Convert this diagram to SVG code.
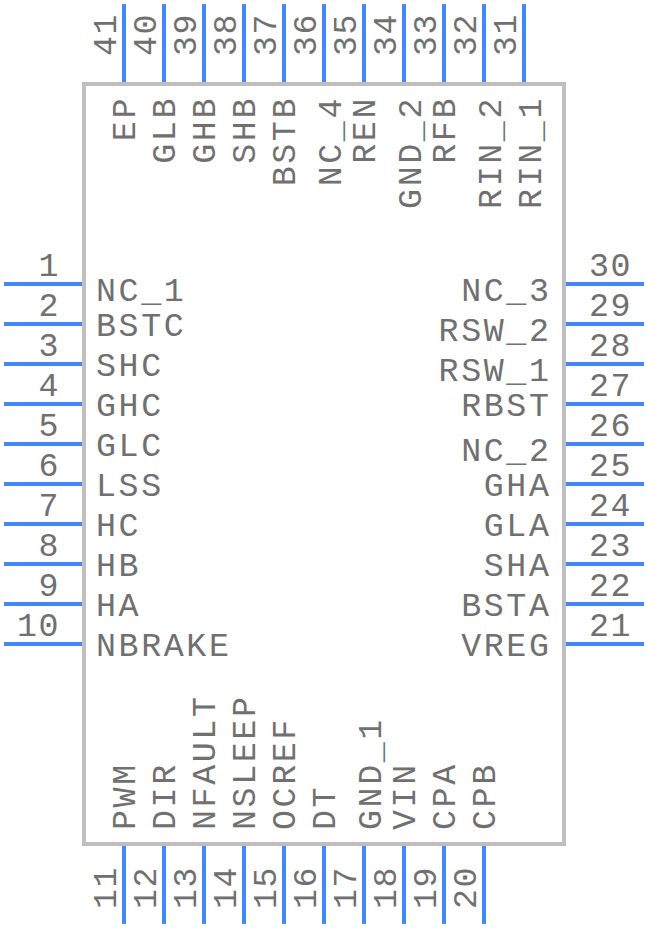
<svg xmlns="http://www.w3.org/2000/svg" width="648" height="928" viewBox="0 0 648 928">
<style>
text{font-family:"Liberation Mono",monospace;font-size:33.3px;fill:#707070;letter-spacing:2.6px}
.n{letter-spacing:1.5px}
.pin{stroke:#4287f5;stroke-width:4;fill:none}
.body{stroke:#bfbfbf;stroke-width:4;fill:#fff}
.e{text-anchor:end}
</style>
<g id="package"><rect class="body" x="84" y="84" width="480" height="760"/></g>
<g id="connectors">
<path class="pin" d="M4 284H82M4 324H82M4 364H82M4 404H82M4 444H82M4 484H82M4 524H82M4 564H82M4 604H82M4 644H82"/>
<path class="pin" d="M566 284H644M566 324H644M566 364H644M566 404H644M566 444H644M566 484H644M566 524H644M566 564H644M566 604H644M566 644H644"/>
<path class="pin" d="M124 4V82M164 4V82M204 4V82M244 4V82M284 4V82M324 4V82M364 4V82M404 4V82M444 4V82M484 4V82M524 4V82"/>
<path class="pin" d="M124 846V924M164 846V924M204 846V924M244 846V924M284 846V924M324 846V924M364 846V924M404 846V924M444 846V924M484 846V924"/>
</g>
<g id="pins-left">
<g id="p1"><text class="n e" x="60" y="276">1</text><text x="96" y="301">NC_1</text></g>
<g id="p2"><text class="n e" x="60" y="316">2</text><text x="96" y="336">BSTC</text></g>
<g id="p3"><text class="n e" x="60" y="356">3</text><text x="96" y="376">SHC</text></g>
<g id="p4"><text class="n e" x="60" y="396">4</text><text x="96" y="416">GHC</text></g>
<g id="p5"><text class="n e" x="60" y="436">5</text><text x="96" y="456">GLC</text></g>
<g id="p6"><text class="n e" x="60" y="476">6</text><text x="96" y="496">LSS</text></g>
<g id="p7"><text class="n e" x="60" y="516">7</text><text x="96" y="536">HC</text></g>
<g id="p8"><text class="n e" x="60" y="556">8</text><text x="96" y="576">HB</text></g>
<g id="p9"><text class="n e" x="60" y="596">9</text><text x="96" y="616">HA</text></g>
<g id="p10"><text class="n e" x="60" y="636">10</text><text x="96" y="656">NBRAKE</text></g>
</g>
<g id="pins-right">
<g id="p30"><text class="n" x="589" y="276">30</text><text class="e" x="551.5" y="301">NC_3</text></g>
<g id="p29"><text class="n" x="589" y="316">29</text><text class="e" x="551.5" y="341">RSW_2</text></g>
<g id="p28"><text class="n" x="589" y="356">28</text><text class="e" x="551.5" y="381">RSW_1</text></g>
<g id="p27"><text class="n" x="589" y="396">27</text><text class="e" x="551.5" y="416">RBST</text></g>
<g id="p26"><text class="n" x="589" y="436">26</text><text class="e" x="551.5" y="461">NC_2</text></g>
<g id="p25"><text class="n" x="589" y="476">25</text><text class="e" x="551.5" y="496">GHA</text></g>
<g id="p24"><text class="n" x="589" y="516">24</text><text class="e" x="551.5" y="536">GLA</text></g>
<g id="p23"><text class="n" x="589" y="556">23</text><text class="e" x="551.5" y="576">SHA</text></g>
<g id="p22"><text class="n" x="589" y="596">22</text><text class="e" x="551.5" y="616">BSTA</text></g>
<g id="p21"><text class="n" x="589" y="636">21</text><text class="e" x="551.5" y="656">VREG</text></g>
</g>
<g id="pins-top">
<g id="p41"><text class="n" transform="translate(116 56) rotate(-90)">41</text><text class="e" transform="translate(135 96) rotate(-90)">EP</text></g>
<g id="p40"><text class="n" transform="translate(156 56) rotate(-90)">40</text><text class="e" transform="translate(175 96) rotate(-90)">GLB</text></g>
<g id="p39"><text class="n" transform="translate(196 56) rotate(-90)">39</text><text class="e" transform="translate(215 96) rotate(-90)">GHB</text></g>
<g id="p38"><text class="n" transform="translate(236 56) rotate(-90)">38</text><text class="e" transform="translate(255 96) rotate(-90)">SHB</text></g>
<g id="p37"><text class="n" transform="translate(276 56) rotate(-90)">37</text><text class="e" transform="translate(295 96) rotate(-90)">BSTB</text></g>
<g id="p36"><text class="n" transform="translate(316 56) rotate(-90)">36</text><text class="e" transform="translate(341 96) rotate(-90)">NC_4</text></g>
<g id="p35"><text class="n" transform="translate(356 56) rotate(-90)">35</text><text class="e" transform="translate(375 96) rotate(-90)">REN</text></g>
<g id="p34"><text class="n" transform="translate(396 56) rotate(-90)">34</text><text class="e" transform="translate(421 96) rotate(-90)">GND_2</text></g>
<g id="p33"><text class="n" transform="translate(436 56) rotate(-90)">33</text><text class="e" transform="translate(455 96) rotate(-90)">RFB</text></g>
<g id="p32"><text class="n" transform="translate(476 56) rotate(-90)">32</text><text class="e" transform="translate(501 96) rotate(-90)">RIN_2</text></g>
<g id="p31"><text class="n" transform="translate(516 56) rotate(-90)">31</text><text class="e" transform="translate(541 96) rotate(-90)">RIN_1</text></g>
</g>
<g id="pins-bottom">
<g id="p11"><text class="n" transform="translate(116 909) rotate(-90)">11</text><text transform="translate(135 830) rotate(-90)">PWM</text></g>
<g id="p12"><text class="n" transform="translate(156 909) rotate(-90)">12</text><text transform="translate(175 830) rotate(-90)">DIR</text></g>
<g id="p13"><text class="n" transform="translate(196 909) rotate(-90)">13</text><text transform="translate(215 830) rotate(-90)">NFAULT</text></g>
<g id="p14"><text class="n" transform="translate(236 909) rotate(-90)">14</text><text transform="translate(255 830) rotate(-90)">NSLEEP</text></g>
<g id="p15"><text class="n" transform="translate(276 909) rotate(-90)">15</text><text transform="translate(295 830) rotate(-90)">OCREF</text></g>
<g id="p16"><text class="n" transform="translate(316 909) rotate(-90)">16</text><text transform="translate(335 830) rotate(-90)">DT</text></g>
<g id="p17"><text class="n" transform="translate(356 909) rotate(-90)">17</text><text transform="translate(381 830) rotate(-90)">GND_1</text></g>
<g id="p18"><text class="n" transform="translate(396 909) rotate(-90)">18</text><text transform="translate(415 830) rotate(-90)">VIN</text></g>
<g id="p19"><text class="n" transform="translate(436 909) rotate(-90)">19</text><text transform="translate(455 830) rotate(-90)">CPA</text></g>
<g id="p20"><text class="n" transform="translate(476 909) rotate(-90)">20</text><text transform="translate(495 830) rotate(-90)">CPB</text></g>
</g>
</svg>
